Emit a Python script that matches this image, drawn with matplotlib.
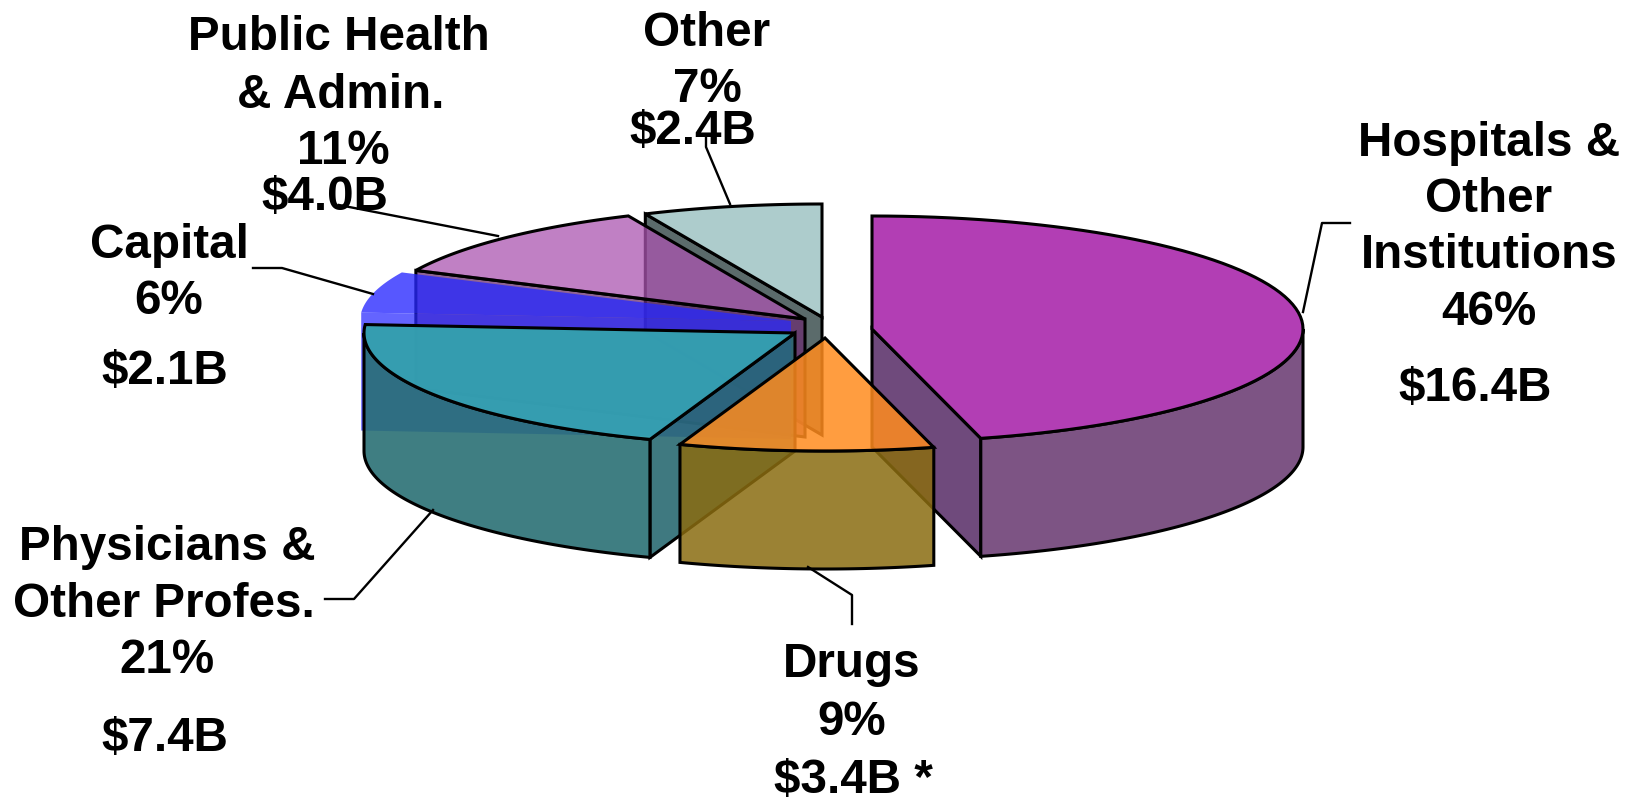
import numpy as np
import matplotlib
matplotlib.use('Agg')
import matplotlib.pyplot as plt
from matplotlib.colors import to_rgba
from matplotlib.patches import Polygon

plt.rcParams['font.family'] = ['Liberation Sans', 'DejaVu Sans']

# slices, clockwise from 12 o'clock
names = ['Hospitals', 'Drugs', 'Physicians', 'Capital', 'Public Health', 'Other']
billions = [16.4, 3.4, 7.4, 2.1, 4.0, 2.4]

# pie shape in pixels
rx = 431
ry = 113
depth = 118

# where each slice's centre point ended up after exploding
apex = {'Hospitals': (872, 330), 'Drugs': (825, 339), 'Physicians': (795, 334),
        'Capital': (791, 322), 'Public Health': (805, 320), 'Other': (822, 318)}

# colours: top, outer wall, cut face, alpha of top, alpha of walls, edge
styles = {'Hospitals': ('#b23eb4', '#7d5484', '#6f4a7c', 1.0, 1.0, 'k'),
          'Drugs': ('#ff8c1e', '#8a6c10', '#8a6c10', 0.85, 0.85, 'k'),
          'Physicians': ('#34a0ae', '#2a7075', '#2a6a72', 0.97, 0.9, 'k'),
          'Capital': ('#2828ff', '#2828ff', '#2828ff', 0.78, 0.72, 'none'),
          'Public Health': ('#ab55b0', '#6a2f70', '#6a2f70', 0.75, 0.75, 'k'),
          'Other': ('#adcccc', '#8fa8a8', '#5b6b6b', 1.0, 1.0, 'k')}

# back to front
draw_order = ['Other', 'Public Health', 'Capital', 'Hospitals', 'Physicians', 'Drugs']

# label lines: text, x, y in pixels
labels = [('Public Health', 339, 38), ('& Admin.', 341, 95), ('11%', 343, 151), ('$4.0B', 325, 197),
          ('Other', 707, 33), ('7%', 707, 90), ('$2.4B', 693, 131),
          ('Hospitals &', 1489, 144), ('Other', 1489, 200), ('Institutions', 1489, 256),
          ('46%', 1489, 313), ('$16.4B', 1475, 389),
          ('Capital', 169, 246), ('6%', 169, 302), ('$2.1B', 165, 372),
          ('Physicians &', 167, 548), ('Other Profes.', 164, 605), ('21%', 167, 661), ('$7.4B', 165, 739),
          ('Drugs', 852, 665), ('9%', 852, 723), ('$3.4B *', 853, 781)]

# leader lines in pixels
leaders = [[(1303, 313), (1322, 224), (1350, 224)],
           [(808, 568), (852, 596), (852, 625)],
           [(433, 511), (354, 600), (325, 600)],
           [(373, 295), (282, 269), (253, 269)],
           [(498, 237), (339, 206)],
           [(730, 205), (706, 148), (706, 136)]]

fig = plt.figure(figsize=(16.35, 8.03), dpi=100)
ax = fig.add_axes([0, 0, 1, 1])
ax.set_xlim(0, 1635)
ax.set_ylim(803, 0)
ax.axis('off')


def rim(cx, cy, a0, a1):
    t = np.radians(np.linspace(a0, a1, 80))
    return np.column_stack([cx + rx * np.sin(t), cy - ry * np.cos(t)])


def draw_slice(name, a0, a1):
    cx, cy = apex[name]
    top_c, wall_c, cut_c, a_top, a_wall, edge = styles[name]
    lw = 2.2
    arc = rim(cx, cy, a0, a1)
    down = np.array([0, depth])

    # cut faces, only the ones turned towards the viewer
    visible = []
    if np.sin(np.radians(a0)) < 0:
        visible.append(arc[0])
    if np.sin(np.radians(a1)) > 0.01:
        visible.append(arc[-1])
    for end in visible:
        face = np.array([[cx, cy], end, end + down, np.array([cx, cy]) + down])
        ax.add_patch(Polygon(face, closed=True, facecolor=to_rgba(cut_c, a_wall),
                             edgecolor=edge, lw=lw))

    # outer wall, only the part facing us
    t0, t1 = max(a0, 90), min(a1, 270)
    if t1 > t0:
        front = rim(cx, cy, t0, t1)
        wall = np.vstack([front, (front + down)[::-1]])
        ax.add_patch(Polygon(wall, closed=True, facecolor=to_rgba(wall_c, a_wall),
                             edgecolor=edge, lw=lw))

    top = np.vstack([[[cx, cy]], arc])
    ax.add_patch(Polygon(top, closed=True, facecolor=to_rgba(top_c, a_top),
                         edgecolor=edge, lw=lw))


edges = np.cumsum([0] + billions) / sum(billions) * 360
span = {n: (edges[i], edges[i + 1]) for i, n in enumerate(names)}
for n in draw_order:
    draw_slice(n, *span[n])

for line in leaders:
    xs, ys = zip(*line)
    ax.plot(xs, ys, color='k', lw=1.7)

for txt, x, y in labels:
    ax.text(x, y, txt, ha='center', va='center', fontsize=34.3, fontweight='bold', color='k')

fig.savefig('out.png', dpi=100)
